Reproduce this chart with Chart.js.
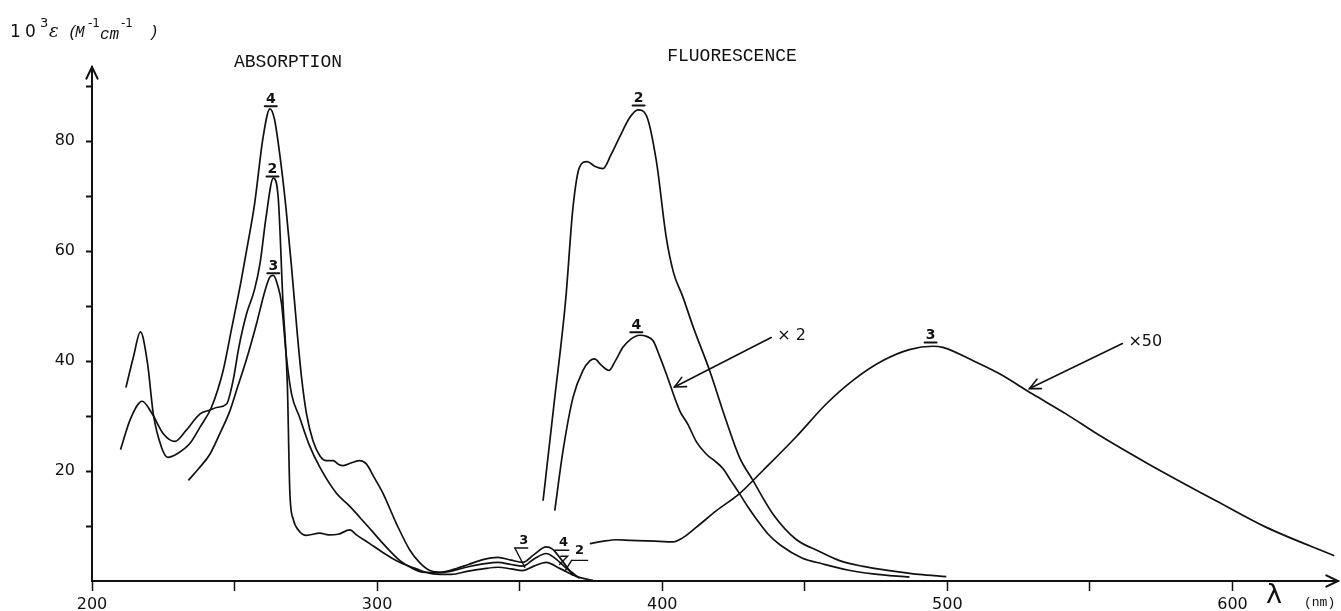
<!DOCTYPE html>
<html>
<head>
<meta charset="utf-8">
<script src="https://cdn.jsdelivr.net/npm/chart.js@4"></script>
<style>
    body { margin: 0; background: #fff; }
    #wrap { width: 1341px; height: 611px; }
</style>
</head>
<body>
<div id="wrap"><canvas id="myChart"></canvas></div>
<script>

// =======================================
// DATA  (wavelength nm, 10^3 eps)
// =======================================

const abs4 = [
    [211.9,35.2],[214.5,40.7],[217,45.3],[219.5,39.5],[221.5,30.4],[224.4,24.3],[226.6,22.5],
    [230,23.2],[234.3,25],[237.9,28],[241.9,31.6],[246,38.3],[249,46],[252.3,54.6],[254.2,60.1],
    [257,68.5],[260,80.7],[262.4,85.9],[264,84],[266,77],[268,68],[270,57],[272,45],[273.5,37],
    [275.2,30.5],[277.5,25.5],[279.9,22.8],[282.2,21.9],[284.6,21.9],[286.5,21.2],[288.1,21.0],
    [291,21.5],[293.9,21.9],[296.2,21.3],[299,18.8],[302.1,15.9],[306.8,10.4],[311.5,5.6],[315,3.3],
    [318.5,1.9],[321.9,1.6],[326,2.0],[332,3.0],[337.1,3.9],[342.4,4.3],[347,3.8],[351.1,3.4],
    [355,4.8],[359.3,6.2],[361.5,5.8],[364,4.3],[368.7,1.0]
];

const abs2 = [
    [210,23.9],[213.5,29.5],[217.6,32.7],[221,30.5],[225,26.8],[229.1,25.4],[233,27.4],[237.9,30.4],
    [241.4,31.1],[244,31.6],[247.2,32.2],[249.5,36.5],[251.5,42.5],[254.2,48.6],[257,53],[259,58],
    [261,66],[263.6,73.3],[265.3,69.8],[267,50.4],[268.5,36],[269.4,16],[270.6,11.2],[272.5,9.2],
    [275.2,8.3],[279.9,8.7],[283,8.4],[286.3,8.5],[290.4,9.3],[293,8.3],[297.4,6.8],[302,5.2],
    [306.8,3.7],[313.8,2.2],[319.6,1.3],[326,1.2],[332,1.8],[337.1,2.2],[342.4,2.5],[347,2.2],
    [351.1,1.9],[355,2.7],[359.3,3.4],[364,2.3],[370,0.8],[375.7,0.1]
];

const abs3 = [
    [233.8,18.3],[237.5,20.5],[241.4,23.1],[245,27],[248.4,31],[250.7,34.7],[254,40],[257.7,46.8],
    [260.5,52.5],[262.4,55.3],[263.6,55.6],[265,54],[266.5,50.4],[268.2,40.7],[270,34],[272.8,29.8],
    [276,25],[279.9,20.7],[285.8,15.9],[290,13.8],[293.9,11.6],[298,9.2],[302.1,6.8],[308,3.7],
    [312,2.4],[316.1,1.6],[322,1.5],[326,1.8],[332,2.6],[337.1,3.1],[342.4,3.4],[347,3.0],
    [351.1,2.7],[355,4.0],[359.3,5.0],[362,4.3],[366,2.5],[371,0.5]
];

const fl2 = [
    [358.2,14.6],[362,32],[366.1,51],[368.7,68],[371,75.3],[373.6,76.3],[376.5,75.4],[379.2,75],
    [382,77.5],[385,80.7],[388.6,84.3],[391.5,85.7],[394.4,84.7],[397.9,76.5],[401.4,62.5],[404,56],
    [407,52],[411,46],[416.6,38.3],[422.4,29.2],[427.1,22.5],[431.8,18.3],[438.8,12.2],[446.9,7.6],
    [455,5.4],[462.2,3.7],[470,2.7],[479.7,1.9],[490,1.2],[499.6,0.8]
];

const fl4 = [
    [362.3,12.8],[365.2,23.7],[368.7,33.4],[372.2,38.3],[374.5,40],[376.3,40.4],[378.5,39.3],[381.3,38.3],
    [383.5,40],[386.2,42.5],[389,44],[392.1,44.7],[394.5,44.5],[396.8,43.7],[399,41],[401.4,37.7],
    [406.1,31],[409,28.5],[412,25.3],[415.4,23.1],[418.5,21.8],[421.2,20.5],[424,18.3],[427.1,15.9],
    [430,13.5],[433,11.3],[437,8.6],[441.5,6.5],[449,4.2],[456.4,3.1],[465,2],[473.9,1.3],[486.7,0.7]
];

const fl3 = [
    [374.6,6.8],[379,7.2],[383.9,7.5],[389,7.4],[394.4,7.3],[399,7.2],[403.7,7.1],[407,7.8],
    [412,9.8],[419,12.8],[427.1,15.9],[435.3,20.1],[446.9,26.2],[457.5,32.2],[466.9,36.5],[477.4,40.1],
    [486.7,42.1],[494.9,42.7],[498.4,42.5],[508.9,40.1],[518.3,37.7],[529.9,34],[541.6,30.4],[553.3,26.5],
    [570.8,21.2],[588.4,16.2],[594.2,14.6],[611.7,9.8],[635.7,4.6]
];

const xTicks  = [200, 250, 300, 350, 400, 450, 500, 550, 600];
const xLabels = [200, 300, 400, 500, 600];
const yTicks  = [10, 20, 30, 40, 50, 60, 70, 80, 90];
const yLabels = [20, 40, 60, 80];

// =======================================
// ANNOTATIONS (data units)
// =======================================

// [text, x, underline y]
const peakLabels = [
    ['4', 262.7, 86.35],
    ['2', 263.3, 73.6],
    ['3', 263.6, 56.0],
    ['2', 391.7, 86.5],
    ['4', 390.9, 45.25],
    ['3', 494.1, 43.4]
];

// [text, text x, text y, underline, pointer]
const bumpLabels = [
    ['3', 351.4, 7.4, [[348.3,6.0],[352.8,6.0]], [[348.3,6.0],[351.8,2.5]]],
    ['4', 365.4, 7.0, [[362.3,5.6],[367.2,5.6]], [[364.4,4.5],[366.8,4.5],[364.0,3.0]]],
    ['2', 371.0, 5.6, [[368.2,3.75],[373.8,3.75]], [[368.2,3.75],[365.8,1.75]]]
];

// [text, from x, from y, tip x, tip y]
const scaleNotes = [
    ['\u00d7 2', 438.2, 44.3, 404.3, 35.3],
    ['\u00d750', 561.4, 43.2, 528.8, 35.0]
];

// =======================================
// HELPERS
// =======================================

const INK = '#111';

function toPoints(arr) {
    return arr.map(p => ({ x: p[0], y: p[1] }));
}

function curve(arr) {
    return {
        data: toPoints(arr),
        borderColor: INK,
        borderWidth: 1.7,
        pointRadius: 0,
        fill: false,
        cubicInterpolationMode: 'monotone'
    };
}

function openHead(ctx, x1, y1, x2, y2, len) {
    const a = Math.atan2(y2 - y1, x2 - x1);
    ctx.beginPath();
    ctx.moveTo(x2 - len * Math.cos(a - 0.45), y2 - len * Math.sin(a - 0.45));
    ctx.lineTo(x2, y2);
    ctx.lineTo(x2 - len * Math.cos(a + 0.45), y2 - len * Math.sin(a + 0.45));
    ctx.stroke();
}

// =======================================
// DECORATION PLUGIN
// =======================================

const decorations = {
    id: 'decorations',
    afterDraw(chart) {
        const ctx = chart.ctx;
        const sx = chart.scales.x;
        const sy = chart.scales.y;
        const px = v => sx.getPixelForValue(v);
        const py = v => sy.getPixelForValue(v);
        const area = chart.chartArea;

        ctx.save();
        ctx.strokeStyle = INK;
        ctx.fillStyle = INK;
        ctx.lineCap = 'round';

        // axis arrows
        ctx.lineWidth = 2;
        openHead(ctx, area.left, area.bottom, area.right, area.bottom, 13);
        openHead(ctx, area.left, area.bottom, area.left, area.top, 13);

        // section titles
        ctx.font = '18px "Liberation Mono"';
        ctx.textAlign = 'center';
        ctx.textBaseline = 'middle';
        ctx.fillText('ABSORPTION', 288, 62);
        ctx.fillText('FLUORESCENCE', 732, 56);

        // peak labels
        ctx.lineWidth = 2;
        ctx.font = 'bold 14px "DejaVu Sans"';
        ctx.textBaseline = 'alphabetic';
        peakLabels.forEach(l => {
            const x = px(l[1]);
            const y = py(l[2]);
            ctx.fillText(l[0], x, y - 3);
            ctx.beginPath();
            ctx.moveTo(x - 6, y);
            ctx.lineTo(x + 6, y);
            ctx.stroke();
        });

        // small labels near the 340-360 nm bands
        ctx.lineWidth = 1.4;
        ctx.font = 'bold 13px "DejaVu Sans"';
        ctx.textBaseline = 'middle';
        bumpLabels.forEach(l => {
            ctx.fillText(l[0], px(l[1]), py(l[2]));
            [l[3], l[4]].forEach(path => {
                ctx.beginPath();
                path.forEach((p, i) => {
                    if (i === 0) ctx.moveTo(px(p[0]), py(p[1]));
                    else ctx.lineTo(px(p[0]), py(p[1]));
                });
                ctx.stroke();
            });
        });

        // x2 / x50 arrows
        ctx.lineWidth = 1.6;
        ctx.font = '16px "DejaVu Sans"';
        ctx.textAlign = 'left';
        scaleNotes.forEach(n => {
            const x1 = px(n[1]), y1 = py(n[2]);
            const x2 = px(n[3]), y2 = py(n[4]);
            ctx.beginPath();
            ctx.moveTo(x1, y1);
            ctx.lineTo(x2, y2);
            ctx.stroke();
            openHead(ctx, x1, y1, x2, y2, 12);
            ctx.fillText(n[0], x1 + 6, y1 - 2);
        });

        // y axis title: 10^3 eps (M^-1 cm^-1)
        // [text, font, x, baseline]
        const pieces = [
            ['1', '17px "DejaVu Sans"', 10, 37],
            ['0', '17px "DejaVu Sans"', 25, 37],
            ['3', '13px "DejaVu Sans"', 40, 27],
            ['\u03b5', 'italic 18px "DejaVu Serif"', 49, 37],
            ['(', 'italic 16px "Liberation Mono"', 68, 37],
            ['M', 'italic 16px "Liberation Mono"', 75, 37],
            ['-1', '12px "DejaVu Sans"', 88, 27],
            ['cm', 'italic 16px "Liberation Mono"', 100, 39],
            ['-1', '12px "DejaVu Sans"', 121, 27],
            [')', 'italic 16px "Liberation Mono"', 149, 37]
        ];
        ctx.textBaseline = 'alphabetic';
        pieces.forEach(p => {
            ctx.font = p[1];
            ctx.fillText(p[0], p[2], p[3]);
        });

        // x axis title
        ctx.font = '27px "DejaVu Sans"';
        ctx.fillText('\u03bb', 1266, 603);
        ctx.font = '13px "Liberation Mono"';
        ctx.fillText('(nm)', 1304, 606);

        ctx.restore();
    }
};

// =======================================
// CHART
// =======================================

const ctx = document.getElementById('myChart').getContext('2d');

const myChart = new Chart(ctx, {
    type: 'line',
    data: {
        datasets: [abs4, abs2, abs3, fl2, fl4, fl3].map(curve)
    },
    options: {
        responsive: true,
        maintainAspectRatio: false,
        animation: false,
        events: [],
        layout: { padding: { top: 67, right: 3, left: 0, bottom: 0 } },
        plugins: {
            legend: { display: false },
            tooltip: { enabled: false }
        },
        scales: {
            x: {
                type: 'linear',
                min: 200,
                max: 637,
                afterBuildTicks: s => { s.ticks = xTicks.map(v => ({ value: v })); },
                afterFit: s => { s.height = 30; },
                border: { display: true, color: INK, width: 2 },
                grid: { drawOnChartArea: false, drawTicks: true, tickLength: 10, color: INK, tickWidth: 1.5 },
                ticks: {
                    autoSkip: false,
                    maxRotation: 0,
                    padding: 4,
                    color: INK,
                    font: { family: 'DejaVu Sans', size: 16 },
                    callback: v => xLabels.includes(v) ? String(v) : ''
                }
            },
            y: {
                min: 0,
                max: 93.5,
                afterBuildTicks: s => { s.ticks = yTicks.map(v => ({ value: v })); },
                afterFit: s => { s.width = 92; },
                border: { display: true, color: INK, width: 2 },
                grid: { drawOnChartArea: false, drawTicks: true, tickLength: 6, color: INK, tickWidth: 2 },
                ticks: {
                    autoSkip: false,
                    padding: 11,
                    color: INK,
                    font: { family: 'DejaVu Sans', size: 16 },
                    callback: v => yLabels.includes(v) ? String(v) : ''
                }
            }
        }
    },
    plugins: [decorations]
});
</script>
</body>
</html>
